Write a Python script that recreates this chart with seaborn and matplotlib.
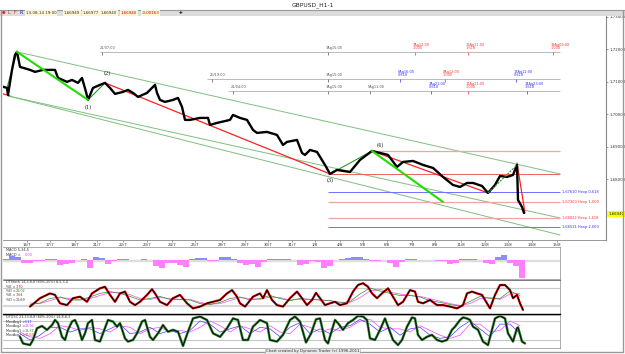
import numpy as np
import pandas as pd
import matplotlib
matplotlib.use("Agg")
import matplotlib.pyplot as plt
from matplotlib.patches import Rectangle
from matplotlib.lines import Line2D
import seaborn as sns

# ---------------- data ----------------
price_bars = [0, 7, 8, 12, 15, 17, 20, 30, 35, 43, 55, 58, 67, 72, 78, 82, 86, 88, 93, 100,
              105, 110, 115, 123, 128, 133, 138, 147, 155, 157, 160, 165, 173, 178, 182, 185,
              190, 200, 208, 210, 217, 230, 233, 240, 247, 253, 257, 267, 277, 283, 287, 297,
              302, 305, 310, 317, 325, 330, 337, 350, 360, 372, 380, 388, 397, 403, 413, 423,
              433, 443, 453, 460, 467, 473, 482, 488, 495, 500, 507, 513, 517, 518, 522, 524]
price_close = [1.70871, 1.70809, 1.70594, 1.71363, 1.71825, 1.71917, 1.71455, 1.71363, 1.71302,
               1.71363, 1.71363, 1.71117, 1.70994, 1.71055, 1.70963, 1.71117, 1.70686, 1.70440,
               1.70809, 1.70902, 1.70963, 1.70809, 1.70625, 1.70686, 1.70748, 1.70655, 1.70532,
               1.70655, 1.70902, 1.70655, 1.70440, 1.70378, 1.70440, 1.70501, 1.70225, 1.69825,
               1.69825, 1.69886, 1.69886, 1.69671, 1.69732, 1.69825, 1.69978, 1.69886, 1.69825,
               1.69517, 1.69425, 1.69455, 1.69363, 1.69055, 1.69148, 1.69209, 1.68809, 1.68748,
               1.68901, 1.68840, 1.68440, 1.68163, 1.68286, 1.68224, 1.68594, 1.68870, 1.68809,
               1.68748, 1.68378, 1.68532, 1.68563, 1.68440, 1.68348, 1.68071, 1.67824, 1.67763,
               1.67886, 1.67886, 1.67794, 1.67578, 1.67824, 1.68101, 1.68071, 1.68132, 1.68440,
               1.67363, 1.67147, 1.66963]

day_labels = ["16/7", "17/7", "18/7", "21/7", "22/7", "23/7", "24/7", "25/7", "28/7", "29/7",
              "30/7", "31/7", "1/8", "4/8", "5/8", "6/8", "7/8", "8/8", "11/8", "12/8",
              "13/8", "14/8", "15/8"]
day_bars = [27, 50, 75, 97, 123, 147, 172, 195, 222, 245, 268, 292, 315, 340, 363, 387, 412,
            435, 461, 485, 508, 532, 557]

price_ticks = [1.68, 1.69, 1.70, 1.71, 1.72, 1.73]
last_price = 1.66940

# wave pivots (bar, price)
wave_red = [((105, 1.70963), (330, 1.68163)), ((372, 1.68870), (488, 1.67578)),
            ((517, 1.68500), (525, 1.66963)), ((0, 1.70655), (10, 1.70563))]
wave_green_thin = [((7, 1.70809), (17, 1.71917)), ((88, 1.70440), (105, 1.70963)),
                   ((330, 1.68163), (372, 1.68870))]
wave_green_dotted = [((488, 1.67578), (517, 1.68440))]
wave_green_bright = [((17, 1.71917), (88, 1.70440)), ((372, 1.68870), (443, 1.67302))]
channel = [((17, 1.71917), (560, 1.68163)), ((8, 1.70563), (560, 1.66809)),
           ((8, 1.70563), (560, 1.66286))]
wave_labels = ["(1)", "(2)", "(3)", "(4)"]
wave_label_at = [(88, 1.70190), (107, 1.71240), (330, 1.67950), (380, 1.69050)]

# horizontal price levels
level_price = [1.68880, 1.68160, 1.67610, 1.67300, 1.66822, 1.66521]
level_start = [372, 328, 328, 328, 328, 328]
level_kind = ["pink", "red", "blue", "pink", "pink", "blue"]
level_text = ["", "", "1,67610 Hexp 0,618", "1,67300 Hexp 1,000", "1,66822 Hexp 1,618",
              "1,66521 Hexp 2,000"]

# time projection lines
tp_price = [1.71917, 1.71086, 1.70717]
tp_start = [100, 207, 228]
tp_marks = [
    [(102, "21/07:00", "", "gray"), (328, "1Ag15:00", "", "gray"), (415, "7Ag12:00", "1,000", "red"),
     (468, "11Ag11:00", "1,618", "red"), (553, "19Ag09:00", "1,000", "red")],
    [(212, "20/19:00", "", "gray"), (328, "1Ag15:00", "", "gray"), (400, "5Ag16:00", "0,618", "blue"),
     (445, "8Ag12:00", "1,000", "red"), (516, "13Ag12:00", "0,618", "blue")],
    [(233, "21/04:00", "", "gray"), (328, "1Ag15:00", "", "gray"), (370, "5Ag11:00", "", "gray"),
     (431, "7Ag21:00", "0,618", "blue"), (468, "11Ag11:00", "1,000", "red"),
     (527, "14Ag23:00", "1,618", "blue")],
]

# MACD histogram (pips)
macd_bars = list(range(0, 523, 6))
macd_vals = [1.5, 1.5, 4, 3, -3, -2.5, -1, -0.5, 1.5, 1, -5, -4, -3, 0.5, 1.5, -8, 3, 2, -4, -1,
             1.5, 1, 0.3, 0.5, 1.5, 0.5, -6, -8, -3, -2.5, -5, -7, 1, 2.5, 2, -1, -0.5, 3, 3.5, 1,
             -3, -5, -4, -7, -2, 1.5, 1, 1.5, 1.5, 0.5, -5, -4, -1, -2, -8, -6, 0.5, 1, 2, 3.5,
             3, 1, -1, -0.5, 0.3, -3, -7, -2, 1.5, 1.5, 0.5, 0.5, 0.5, -0.5, -1, -4, -3, 1, 1.5, 1,
             0.5, -3, -3.5, 3, 5, -2.5, -6, -18]

# DTStoch
stk_bars = [30, 40, 50, 55, 60, 67, 73, 80, 87, 92, 100, 105, 110, 115, 120, 125, 130, 135, 140,
            147, 152, 155, 160, 167, 173, 180, 187, 193, 200, 207, 213, 220, 227, 232, 237, 240,
            245, 253, 260, 263, 267, 272, 277, 283, 290, 297, 302, 307, 312, 316, 320, 325, 330,
            335, 340, 347, 353, 358, 363, 368, 372, 377, 382, 388, 393, 398, 403, 410, 415, 418,
            423, 430, 437, 443, 450, 457, 463, 467, 472, 477, 482, 487, 490, 495, 500, 505, 510,
            513, 517, 520, 523]
stk_k = [18, 46, 62, 57, 29, 23, 46, 51, 34, 62, 79, 84, 57, 34, 62, 68, 34, 23, 34, 57, 76, 62,
         34, 23, 46, 57, 29, 12, 18, 29, 34, 40, 62, 73, 51, 29, 18, 51, 62, 46, 73, 40, 23, 18, 46,
         68, 46, 23, 40, 64, 46, 23, 29, 34, 23, 29, 68, 90, 96, 84, 62, 46, 62, 79, 51, 23, 34, 73,
         68, 34, 29, 40, 23, 23, 18, 12, 23, 62, 68, 62, 57, 29, 12, 57, 90, 90, 73, 46, 57, 29, 7]
slow_bars = list(range(30, 521, 10))
stk_green = [25, 30, 45, 50, 40, 40, 50, 62, 68, 62, 52, 40, 45, 52, 42, 42, 40, 28, 25, 32, 45,
             50, 40, 45, 55, 45, 38, 45, 42, 40, 38, 30, 35, 60, 80, 70, 62, 55, 55, 50, 38, 32,
             25, 20, 35, 52, 45, 45, 70, 55]
stk_mag = [30, 28, 38, 48, 45, 40, 45, 55, 65, 65, 58, 45, 42, 48, 45, 42, 42, 32, 26, 28, 38,
           48, 45, 42, 50, 48, 40, 42, 43, 40, 38, 33, 32, 48, 70, 75, 66, 60, 55, 52, 44, 36,
           28, 22, 28, 45, 48, 42, 60, 62]

# DTOSC
osc_bars = [20, 23, 30, 33, 37, 42, 47, 52, 55, 58, 62, 65, 68, 72, 75, 78, 82, 85, 88, 92, 95,
            100, 103, 108, 113, 117, 120, 125, 128, 133, 137, 142, 145, 150, 153, 158, 163, 168,
            173, 178, 183, 188, 193, 200, 207, 213, 220, 227, 233, 238, 243, 248, 253, 260, 267,
            270, 277, 283, 290, 295, 300, 306, 311, 316, 320, 325, 328, 332, 335, 338, 343, 348,
            353, 358, 363, 367, 370, 375, 380, 385, 388, 393, 398, 402, 407, 412, 415, 418, 422,
            427, 432, 437, 442, 447, 452, 455, 460, 463, 467, 470, 473, 478, 483, 488, 492, 495,
            500, 505, 508, 513, 517, 518, 522, 525]
osc_main = [30, 9, 4, 20, 57, 64, 52, 67, 83, 73, 30, 20, 52, 78, 83, 62, 20, 41, 73, 83, 20,
            15, 41, 83, 78, 62, 73, 25, 15, 20, 41, 78, 83, 30, 20, 41, 67, 46, 52, 46, 1, 46, 88,
            94, 83, 41, 30, 57, 88, 83, 20, 20, 62, 83, 73, 20, 15, 36, 83, 94, 78, 12, 40, 85, 88,
            20, 9, 52, 83, 73, 52, 73, 83, 96, 94, 83, 25, 20, 52, 88, 62, 20, 4, 20, 62, 91, 88,
            36, 20, 30, 36, 20, 15, 20, 52, 62, 83, 91, 88, 83, 62, 52, 15, 4, 52, 88, 96, 88, 41,
            15, 57, 60, 15, 9]
osc_slow_bars = list(range(20, 521, 10))
osc_blue = [40, 20, 35, 60, 60, 45, 55, 55, 40, 55, 70, 40, 45, 60, 40, 50, 40, 50, 80, 70, 45,
            55, 65, 40, 60, 55, 30, 60, 75, 40, 55, 40, 60, 65, 85, 70, 45, 60, 35, 55, 60, 35,
            25, 30, 60, 80, 55, 30, 70, 70, 40]
osc_mag = [45, 30, 25, 40, 65, 60, 50, 60, 55, 45, 65, 60, 40, 55, 60, 45, 50, 45, 60, 80, 65,
           45, 65, 55, 45, 65, 45, 40, 70, 60, 45, 55, 50, 60, 80, 85, 60, 55, 55, 45, 65, 50,
           35, 25, 35, 70, 70, 45, 50, 80, 65]

# ---------------- drawing ----------------
sns.set_theme(style="white")
plt.rcParams['font.family'] = ['DejaVu Sans']

W, H = 625, 354
fig = plt.figure(figsize=(W / 100, H / 100), dpi=100)
fig.patch.set_facecolor("white")


def pax(x0, y0, x1, y1):
    a = fig.add_axes([x0 / W, 1 - y1 / H, (x1 - x0) / W, (y1 - y0) / H])
    a.set_facecolor("white")
    return a


def fx(x):
    return x / W


def fy(y):
    return 1 - y / H


# window chrome
fig.add_artist(Rectangle((0, fy(16)), 1, (16 - 10) / H, transform=fig.transFigure,
                         facecolor="#dcdcdc", edgecolor="none"))
fig.add_artist(Line2D([0, 1], [fy(9.5), fy(9.5)], transform=fig.transFigure, color="#999999", lw=0.8))
fig.add_artist(Line2D([fx(1), fx(1)], [fy(352), fy(9.5)], transform=fig.transFigure, color="#999999", lw=1.0))
fig.add_artist(Line2D([fx(623), fx(623)], [fy(352), fy(9.5)], transform=fig.transFigure, color="#999999", lw=1.0))
fig.add_artist(Line2D([fx(1), fx(623)], [fy(352), fy(352)], transform=fig.transFigure, color="#999999", lw=1.0))
fig.text(0.5, fy(5), "GBPUSD_H1-1", ha="center", va="center", fontsize=4.3, color="#222222")

# toolbar
fig.text(fx(2), fy(13), "●", color="#dd2222", fontsize=2.8, va="center")
fig.text(fx(7), fy(13), "L", color="#aa3333", fontsize=3.4, va="center")
fig.text(fx(13), fy(13), "F", color="#cc2222", fontsize=3.4, va="center")
fig.text(fx(19), fy(13), "R", color="#2222aa", fontsize=3.4, va="center")
tb_items = [(26, "13-08-14 19:00", "#333333"), (64, "1,66949", "#333333"), (83, "1,66977", "#333333"),
            (101, "1,66940", "#333333"), (121, "1,66940", "#dd0000"), (142, "-0,00163", "#dd0000")]
for x, s, c in tb_items:
    fig.text(fx(x), fy(13), s, color=c, fontsize=2.9, va="center",
             bbox=dict(boxstyle="square,pad=0.15", fc="#fbf6d8", ec="none"))
fig.text(fx(179), fy(13), "✚", color="#222222", fontsize=3.2, va="center")

# ---- main price panel ----
ax = pax(3, 16, 606, 240)
ax.set_xlim(3, 606)
ax.set_ylim(1.66132, 1.73020)

for (x0, p0), (x1, p1) in channel:
    ax.plot([x0, x1], [p0, p1], color="#7fbf7f", lw=0.7, zorder=1)

for p, s, k in zip(level_price, level_start, level_kind):
    col = {"pink": "#f4a3a3", "red": "#f06060", "blue": "#7070ff"}[k]
    ax.hlines(p, s, 560, color=col, lw=0.9 if k == "pink" else 0.7, zorder=1)

for p, s in zip(tp_price, tp_start):
    ax.hlines(p, s, 560, color="#b0b0b0", lw=0.6, zorder=1)

pr_df = pd.DataFrame({"bar": price_bars, "price": price_close})
sns.lineplot(data=pr_df, x="bar", y="price", ax=ax, color="black", lw=1.7,
             estimator=None, sort=False, zorder=4)

for (x0, p0), (x1, p1) in wave_red:
    ax.plot([x0, x1], [p0, p1], color="#ff2020", lw=0.9, zorder=3)
for (x0, p0), (x1, p1) in wave_green_thin:
    ax.plot([x0, x1], [p0, p1], color="#2a9a2a", lw=0.8, zorder=3)
for (x0, p0), (x1, p1) in wave_green_dotted:
    ax.plot([x0, x1], [p0, p1], color="#2a9a2a", lw=0.8, ls=(0, (2, 1)), zorder=5)
for (x0, p0), (x1, p1) in wave_green_bright:
    ax.plot([x0, x1], [p0, p1], color="#22dd00", lw=1.5, zorder=5)

for s, (x, p) in zip(wave_labels, wave_label_at):
    ax.text(x, p, s, fontsize=3.6, ha="center", va="center", color="#222222", family="DejaVu Serif",
            zorder=6)

# time projection labels
unit = (1.73020 - 1.66132) / 224.0
for p, marks in zip(tp_price, tp_marks):
    for x, s1, s2, c in marks:
        col = {"gray": "#555555", "red": "#ff3030", "blue": "#3030ff"}[c]
        ax.vlines(x, p - 3 * unit, p, color=col, lw=0.5)
        if s2:
            ax.text(x - 2, p + 1.5 * unit, s1 + "\n" + s2, fontsize=2.5, color=col, ha="left",
                    va="bottom", linespacing=0.9)
        else:
            ax.text(x - 2, p + 1.5 * unit, s1, fontsize=2.5, color=col, ha="left", va="bottom")

for p, k, s in zip(level_price, level_kind, level_text):
    if s:
        col = "#3030ff" if k == "blue" else "#ff3030"
        ax.text(562, p, s, fontsize=2.6, color=col, ha="left", va="center")

ax.yaxis.tick_right()
ax.set_yticks(price_ticks)
ax.set_yticklabels([f"{v:.5f}".replace(".", ",") for v in price_ticks], fontsize=2.8,
                   color="#333333")
ax.set_xticks(day_bars)
ax.set_xticklabels(day_labels, fontsize=2.8, color="#333333")
ax.tick_params(axis="both", length=1.5, width=0.4, pad=1, color="#555555", right=True, bottom=True)
ax.set_xlabel("")
ax.set_ylabel("")
for sp in ["top", "left"]:
    ax.spines[sp].set_visible(False)
ax.spines["right"].set_color("#888888")
ax.spines["right"].set_linewidth(0.8)
ax.spines["bottom"].set_color("#888888")
ax.spines["bottom"].set_linewidth(0.6)
ax.text(1.004, last_price, f"{last_price:.5f}".replace(".", ","), transform=ax.get_yaxis_transform(),
        fontsize=2.8, va="center", ha="left", color="#222222",
        bbox=dict(boxstyle="square,pad=0.25", fc="#ffff00", ec="none"))

# ---- MACD ----
mx = pax(3, 247, 560, 279)
mx.set_xlim(3, 560)
mx.set_ylim(-19, 13)
mx.axhspan(-0.5, 0.5, color="#dddddd", zorder=0)
cols = ["#8c8cff" if v > 0 else "#ff80ff" for v in macd_vals]
mx.bar(macd_bars, macd_vals, width=6, color=cols, edgecolor="none", zorder=2)
mx.text(6, 10, "MACD 5,34,5", fontsize=2.5, color="#333333", va="center")
mx.text(6, 5.5, "MACD = ", fontsize=2.5, color="#333333", va="center")
mx.text(25, 5.5, "0,00", fontsize=2.5, color="#ff33ff", va="center")

# ---- DTStoch ----
sx = pax(3, 280, 560, 314)
sx.set_xlim(3, 560)
sx.set_ylim(-6.7, 106.7)
sx.axhline(80, color="#c8c8c8", lw=0.8, zorder=0)
sx.axhline(20, color="#d8d8d8", lw=1.5, zorder=0)
sdf = pd.DataFrame({"bar": slow_bars, "green": stk_green, "mag": stk_mag})
sns.lineplot(data=sdf, x="bar", y="mag", ax=sx, color="#ff44ff", lw=0.5, estimator=None)
sns.lineplot(data=sdf, x="bar", y="green", ax=sx, color="#2e8b2e", lw=0.5, estimator=None)
kdf = pd.DataFrame({"bar": stk_bars, "k": stk_k})
sns.lineplot(data=kdf, x="bar", y="k", ax=sx, color="#ff0000", lw=1.6, estimator=None)
sns.lineplot(data=kdf, x="bar", y="k", ax=sx, color="black", lw=0.8, estimator=None)
sx.text(6, 99, "DTStoch 14,3,8,8 (80%-20%) 8,5,3,4", fontsize=2.4, color="#333333", va="center")
stoch_txt = [("%K = ", "7,70", "#ff0000"), ("%D = ", "21,02", "#228822"),
             ("%K = ", "7,64", "#ff0000"), ("%D = ", "10,69", "#333333")]
for i, (a, b, c) in enumerate(stoch_txt):
    yv = 85 - i * 14.5
    sx.text(6, yv, a, fontsize=2.4, color="#333333", va="center")
    sx.text(16, yv, b, fontsize=2.4, color=c, va="center")

# ---- DTOSC ----
ox = pax(3, 315, 560, 348)
ox.set_xlim(3, 560)
ox.set_ylim(-5.4, 98.8)
ox.axhline(80, color="#c8c8c8", lw=0.8, zorder=0)
ox.axhline(20, color="#c8c8c8", lw=0.8, zorder=0)
odf = pd.DataFrame({"bar": osc_slow_bars, "blue": osc_blue, "mag": osc_mag})
sns.lineplot(data=odf, x="bar", y="mag", ax=ox, color="#ff44ff", lw=0.5, estimator=None)
sns.lineplot(data=odf, x="bar", y="blue", ax=ox, color="#4040ff", lw=0.5, estimator=None)
mdf = pd.DataFrame({"bar": osc_bars, "v": osc_main})
sns.lineplot(data=mdf, x="bar", y="v", ax=ox, color="#2f7f2f", lw=1.8, estimator=None)
sns.lineplot(data=mdf, x="bar", y="v", ax=ox, color="black", lw=0.6, estimator=None)
ox.text(6, 91, "DTOSC 21,13,8,8 (80%-20%) 14,8,8,3", fontsize=2.4, color="#333333", va="center")
osc_txt = [("MovAvg1 = ", "5,17", "#3030ff"), ("MovAvg2 = ", "23,96", "#ff33ff"),
           ("MovAvg1 = ", "18,37", "#228822"), ("MovAvg2 = ", "11,63", "#ff3030")]
for i, (a, b, c) in enumerate(osc_txt):
    yv = 77 - i * 14
    ox.text(6, yv, a, fontsize=2.4, color="#333333", va="center")
    ox.text(25, yv, b, fontsize=2.4, color=c, va="center")

for a in (mx, sx, ox):
    a.set_xticks([])
    a.set_yticks([])
    a.set_xlabel("")
    a.set_ylabel("")
    for sp in a.spines.values():
        sp.set_color("#888888")
        sp.set_linewidth(0.5)
    a.spines["left"].set_visible(False)
sx.spines["bottom"].set_color("black")
sx.spines["bottom"].set_linewidth(1.0)
sx.spines["top"].set_color("#444444")

fig.text(0.5, fy(351), "Chart created by Dynamic Trader (c) 1996-2011", fontsize=2.8, ha="center",
         va="center", color="#333333",
         bbox=dict(boxstyle="square,pad=0.2", fc="#e8e8e8", ec="#aaaaaa", lw=0.4))

fig.savefig("out.png", dpi=100)
